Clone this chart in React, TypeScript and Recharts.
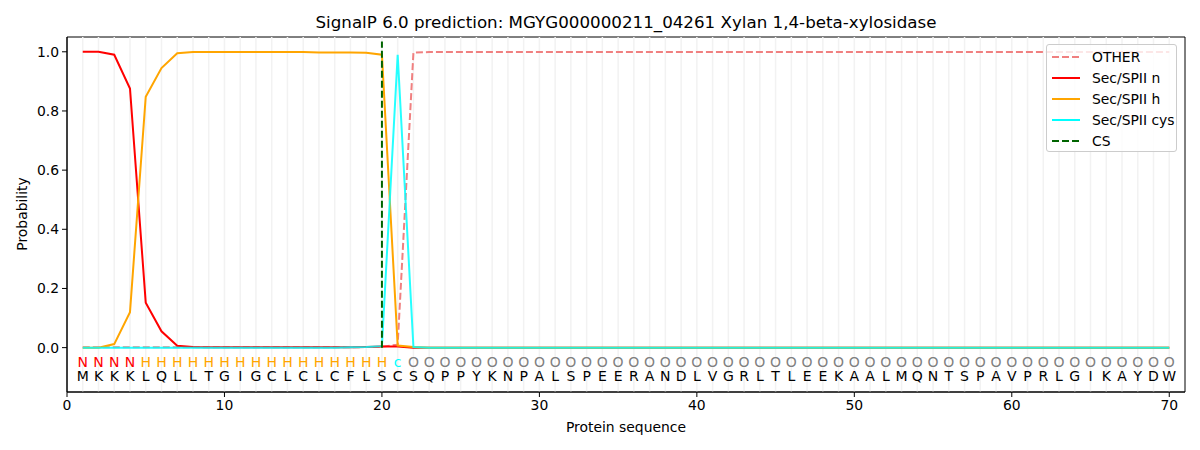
import {
  ComposedChart,
  Line,
  Scatter,
  XAxis,
  YAxis,
  ReferenceLine,
  ReferenceArea,
} from "recharts";

const sequence = "MKKKLQLLTGIGCLCLCFLSCSQPPYKNPALSPEERANDLVGRLTLEEKAALMQNTSPAVPRLGIKAYDW";
const regions = "NNNNHHHHHHHHHHHHHHHHcOOOOOOOOOOOOOOOOOOOOOOOOOOOOOOOOOOOOOOOOOOOOOOOOO";

const otherProb = [
  0.001, 0.001, 0.001, 0.001, 0.001, 0.001, 0.001, 0.001, 0.001, 0.001,
  0.001, 0.001, 0.001, 0.001, 0.001, 0.001, 0.001, 0.001, 0.002, 0.003,
  0.01, 0.997, 0.999, 0.999, 0.999, 0.999, 0.999, 0.999, 0.999, 0.999,
  0.999, 0.999, 0.999, 0.999, 0.999, 0.999, 0.999, 0.999, 0.999, 0.999,
  0.999, 0.999, 0.999, 0.999, 0.999, 0.999, 0.999, 0.999, 0.999, 0.999,
  0.999, 0.999, 0.999, 0.999, 0.999, 0.999, 0.999, 0.999, 0.999, 0.999,
  0.999, 0.999, 0.999, 0.999, 0.999, 0.999, 0.999, 0.999, 0.999, 0.999,
];
const nProb = [
  1.0, 1.0, 0.99, 0.876, 0.152, 0.055, 0.006, 0.002, 0.001, 0.001,
  0.001, 0.001, 0.001, 0.001, 0.001, 0.001, 0.001, 0.001, 0.002, 0.004,
  0.004, 0, 0, 0, 0, 0, 0, 0, 0, 0,
  0, 0, 0, 0, 0, 0, 0, 0, 0, 0,
  0, 0, 0, 0, 0, 0, 0, 0, 0, 0,
  0, 0, 0, 0, 0, 0, 0, 0, 0, 0,
  0, 0, 0, 0, 0, 0, 0, 0, 0, 0,
];
const hProb = [
  0.0, 0.0, 0.012, 0.12, 0.848, 0.945, 0.995, 0.999, 0.999, 0.999,
  0.999, 0.999, 0.999, 0.999, 0.999, 0.998, 0.998, 0.998, 0.997, 0.99,
  0.007, 0.002, 0, 0, 0, 0, 0, 0, 0, 0,
  0, 0, 0, 0, 0, 0, 0, 0, 0, 0,
  0, 0, 0, 0, 0, 0, 0, 0, 0, 0,
  0, 0, 0, 0, 0, 0, 0, 0, 0, 0,
  0, 0, 0, 0, 0, 0, 0, 0, 0, 0,
];
const cysProb = [
  0, 0, 0, 0, 0, 0, 0, 0, 0, 0,
  0, 0, 0, 0, 0, 0, 0, 0.001, 0.002, 0.005,
  0.99, 0.002, 0, 0, 0, 0, 0, 0, 0, 0,
  0, 0, 0, 0, 0, 0, 0, 0, 0, 0,
  0, 0, 0, 0, 0, 0, 0, 0, 0, 0,
  0, 0, 0, 0, 0, 0, 0, 0, 0, 0,
  0, 0, 0, 0, 0, 0, 0, 0, 0, 0,
];

const cleavageSite = 20;
const cleavageTop = 1.035;
const xTicks = [0, 10, 20, 30, 40, 50, 60, 70];
const yTicks = [0, 0.2, 0.4, 0.6, 0.8, 1.0];

const regionColors: Record<string, string> = {
  N: "#ff0000",
  H: "#ffa500",
  c: "#00ffff",
  O: "#808080",
};

const rows = sequence.split("").map((aa, i) => ({
  x: i + 1,
  other: otherProb[i],
  n: nProb[i],
  h: hProb[i],
  cys: cysProb[i],
}));

const regionRows = regions.split("").map((r, i) => ({
  x: i + 1,
  y: -0.0475,
  ch: r,
  color: regionColors[r],
}));

const aaRows = sequence.split("").map((aa, i) => ({
  x: i + 1,
  y: -0.0966,
  ch: aa,
  color: "#000000",
}));

const csRows = [
  { x: cleavageSite, y: 0 },
  { x: cleavageSite, y: cleavageTop },
];

const FONT = "'DejaVu Sans', sans-serif";

// eslint-disable-next-line @typescript-eslint/no-explicit-any
function Letter({ cx, cy, payload }: any) {
  return (
    <text
      x={cx}
      y={cy}
      textAnchor="middle"
      dominantBaseline="central"
      fill={payload.color}
      fontSize={14}
      fontFamily={FONT}
    >
      {payload.ch}
    </text>
  );
}

const legendItems = [
  { label: "OTHER", color: "#f08080", dash: "7 3" },
  { label: "Sec/SPII n", color: "#ff0000", dash: "" },
  { label: "Sec/SPII h", color: "#ffa500", dash: "" },
  { label: "Sec/SPII cys", color: "#00ffff", dash: "" },
  { label: "CS", color: "#006400", dash: "7 3" },
];

export default function App() {
  return (
    <div
      style={{
        position: "absolute",
        left: 0,
        top: 0,
        width: 1200,
        height: 450,
        background: "#fff",
        fontFamily: FONT,
      }}
    >
      <div
        style={{
          position: "absolute",
          left: 67,
          width: 1118,
          top: 12,
          textAlign: "center",
          fontSize: 16.7,
        }}
      >
        SignalP 6.0 prediction: MGYG000000211_04261 Xylan 1,4-beta-xylosidase
      </div>
      <div
        style={{
          position: "absolute",
          left: 67,
          width: 1118,
          top: 419,
          textAlign: "center",
          fontSize: 13.9,
        }}
      >
        Protein sequence
      </div>
      <div
        style={{
          position: "absolute",
          left: 22,
          top: 214,
          transform: "translate(-50%, -50%) rotate(-90deg)",
          fontSize: 13.9,
          whiteSpace: "nowrap",
        }}
      >
        Probability
      </div>
      <ComposedChart
        width={1200}
        height={450}
        margin={{ top: 37, right: 15, left: 7, bottom: 28 }}
      >
        <XAxis
          dataKey="x"
          type="number"
          domain={[0, 71]}
          ticks={xTicks}
          allowDataOverflow
          height={30}
          tickSize={5}
          tickMargin={3}
          stroke="#000"
          tick={{ fill: "#000", fontSize: 13.9, fontFamily: FONT }}
        />
        <YAxis
          dataKey="y"
          type="number"
          domain={[-0.15, 1.05]}
          ticks={yTicks}
          allowDataOverflow
          width={60}
          tickSize={5}
          tickMargin={3}
          stroke="#000"
          tick={{ fill: "#000", fontSize: 13.9, fontFamily: FONT }}
          tickFormatter={(v: number) => v.toFixed(1)}
        />
        {rows.map((r) => (
          <ReferenceLine key={r.x} x={r.x} stroke="#f2f2f2" strokeWidth={1.5} />
        ))}
        <ReferenceArea
          x1={0}
          x2={71}
          y1={-0.15}
          y2={1.05}
          fill="none"
          stroke="#000"
          strokeWidth={1}
          fillOpacity={0}
        />
        <Line
          data={rows}
          dataKey="other"
          type="linear"
          stroke="#f08080"
          strokeWidth={2}
          strokeDasharray="7 3"
          dot={false}
          isAnimationActive={false}
        />
        <Line
          data={rows}
          dataKey="n"
          type="linear"
          stroke="#ff0000"
          strokeWidth={2}
          dot={false}
          isAnimationActive={false}
        />
        <Line
          data={rows}
          dataKey="h"
          type="linear"
          stroke="#ffa500"
          strokeWidth={2}
          dot={false}
          isAnimationActive={false}
        />
        <Line
          data={rows}
          dataKey="cys"
          type="linear"
          stroke="#00ffff"
          strokeWidth={2}
          strokeOpacity={0.85}
          dot={false}
          isAnimationActive={false}
        />
        <Line
          data={csRows}
          dataKey="y"
          type="linear"
          stroke="#006400"
          strokeWidth={2}
          strokeDasharray="7 3"
          dot={false}
          isAnimationActive={false}
        />
        <Scatter
          data={regionRows}
          dataKey="y"
          shape={<Letter />}
          isAnimationActive={false}
        />
        <Scatter
          data={aaRows}
          dataKey="y"
          shape={<Letter />}
          isAnimationActive={false}
        />
      </ComposedChart>
      <div
        style={{
          position: "absolute",
          left: 1046,
          top: 44,
          width: 131,
          height: 108,
          background: "rgba(255,255,255,0.8)",
          border: "1px solid #cccccc",
          borderRadius: 3,
          boxSizing: "border-box",
        }}
      >
        {legendItems.map((item, i) => (
          <div
            key={item.label}
            style={{
              position: "absolute",
              left: 4,
              top: 1 + i * 21,
              height: 21,
              display: "flex",
              alignItems: "center",
              fontSize: 13.9,
              whiteSpace: "nowrap",
            }}
          >
            <svg width={30} height={10} style={{ marginRight: 11 }}>
              <line
                x1={1}
                y1={5}
                x2={29}
                y2={5}
                stroke={item.color}
                strokeWidth={2}
                strokeDasharray={item.dash || undefined}
              />
            </svg>
            {item.label}
          </div>
        ))}
      </div>
    </div>
  );
}
